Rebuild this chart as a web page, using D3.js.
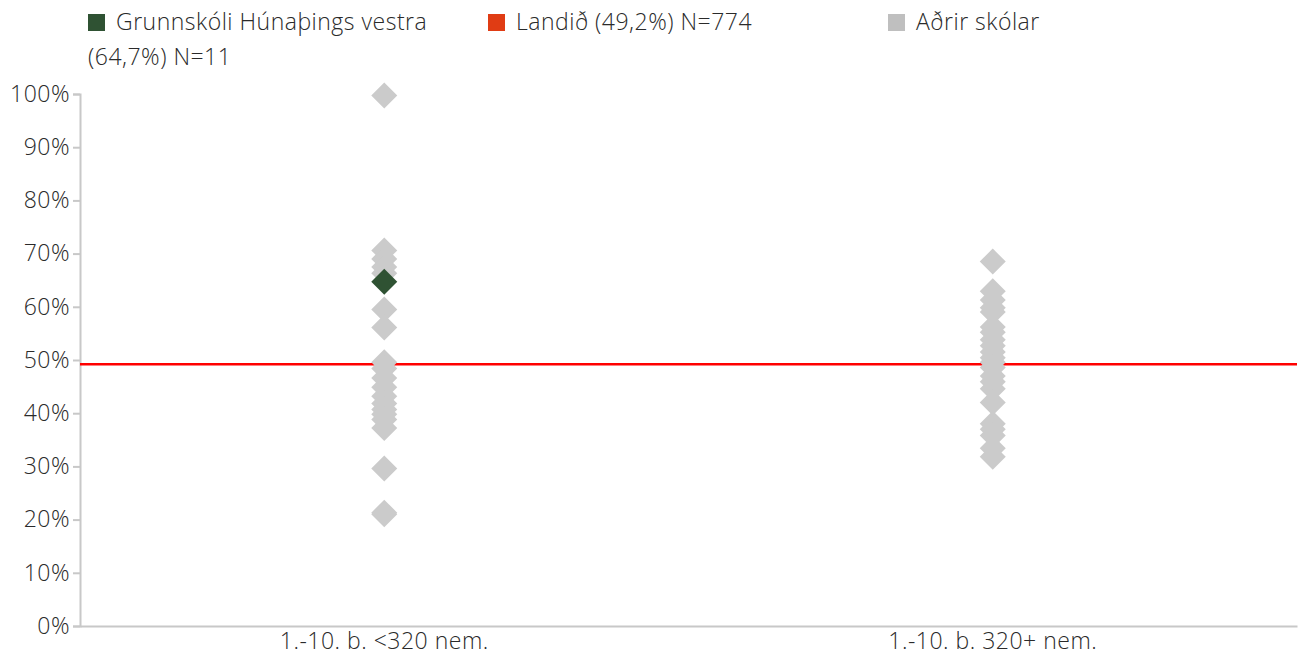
<!DOCTYPE html>
<html>
<head>
<meta charset="utf-8">
<script src="https://cdn.jsdelivr.net/npm/d3@7"></script>
<style>
  html, body { margin: 0; padding: 0; background: #fff; }
  svg { display: block; font-family: "Open Sans", "Noto Sans", sans-serif; }
  .lbl { font-family: "Open Sans", sans-serif; font-size: 23px; font-weight: 300; letter-spacing: 0.5px; }
</style>
</head>
<body>
<svg id="chart" width="1306" height="658"></svg>
<script>
const categories = ["1.-10. b. <320 nem.", "1.-10. b. 320+ nem."];
const yTicks = [0, 10, 20, 30, 40, 50, 60, 70, 80, 90, 100];
const otherSmall = [99.7, 70.6, 69.0, 67.5, 66.3, 59.5, 56.1, 49.6, 48.4, 46.6, 44.9, 43.2, 41.8, 40.7, 39.8, 38.8, 37.2, 29.6, 21.3, 21.0];
const otherLarge = [68.5, 62.9, 61.3, 59.8, 59.0, 56.2, 55.2, 53.8, 52.7, 51.5, 50.4, 49.6, 48.6, 47.0, 45.9, 44.6, 42.0, 38.0, 37.0, 35.8, 33.4, 31.8];
const schoolCategory = "1.-10. b. <320 nem.";
const schoolValue = 64.7;
const nationalValue = 49.2;
const legendLabels = ["Grunnskóli Húnaþings vestra (64,7%) N=11", "Landið (49,2%) N=774", "Aðrir skólar"];
const legendColors = ["#2f5233", "#e03c14", "#bfbfbf"];

const svg = d3.select("#chart");
const margin = { left: 80, right: 1297, top: 94, bottom: 626 };
const x = d3.scaleBand().domain(categories).range([margin.left, margin.right]).padding(0);
const y = d3.scaleLinear().domain([0, 100]).range([margin.bottom, margin.top]);
const textColor = "#2a2a2a";
const axisColor = "#c8c8c8";

// Y axis
const yAxis = svg.append("g")
  .attr("transform", `translate(${margin.left},0)`)
  .call(d3.axisLeft(y).tickValues(yTicks).tickFormat(d => d + "%").tickSize(7).tickPadding(3));
yAxis.attr("font-size", null).attr("font-family", null);
yAxis.select(".domain").attr("stroke", axisColor).attr("stroke-width", 2);
yAxis.selectAll(".tick line").attr("stroke", axisColor).attr("stroke-width", 2);
yAxis.selectAll(".tick text").attr("fill", textColor).attr("class", "lbl");

// X axis
const xAxis = svg.append("g")
  .attr("transform", `translate(0,${margin.bottom})`)
  .call(d3.axisBottom(x).tickSize(0).tickPadding(7).tickSizeOuter(0));
xAxis.attr("font-size", null).attr("font-family", null);
xAxis.select(".domain").attr("stroke", axisColor).attr("stroke-width", 2);
xAxis.selectAll(".tick text").attr("fill", textColor).attr("class", "lbl");

// National line
svg.append("line")
  .attr("x1", margin.left).attr("x2", margin.right)
  .attr("y1", y(nationalValue)).attr("y2", y(nationalValue))
  .attr("stroke", "#ff0000").attr("stroke-width", 2.5);

// Diamonds
const diamond = d3.symbol().type(d3.symbolSquare).size(338);
const others = otherSmall.map(v => ({ cat: categories[0], v }))
  .concat(otherLarge.map(v => ({ cat: categories[1], v })));
svg.append("g").selectAll("path").data(others).join("path")
  .attr("d", diamond)
  .attr("transform", d => `translate(${x(d.cat) + x.bandwidth() / 2},${y(d.v)}) rotate(45)`)
  .attr("fill", "#cbcbcb");
svg.append("path")
  .attr("d", diamond)
  .attr("transform", `translate(${x(schoolCategory) + x.bandwidth() / 2},${y(schoolValue)}) rotate(45)`)
  .attr("fill", "#2f5233");

// Legend
const legendX = [88, 488, 888];
const legend = svg.append("g");
legendLabels.forEach((lab, i) => {
  const g = legend.append("g").attr("transform", `translate(${legendX[i]},0)`);
  g.append("rect").attr("x", 0).attr("y", 14).attr("width", 17).attr("height", 17).attr("fill", legendColors[i]);
  const t = g.append("text").attr("fill", textColor).attr("class", "lbl");
  const words = lab.split(" ");
  const maxW = 350;
  let line = [];
  const lines = [];
  const probe = g.append("text").attr("class", "lbl");
  words.forEach(w => {
    const test = line.concat([w]).join(" ");
    probe.text(test);
    if (probe.node().getComputedTextLength() > maxW && line.length) {
      lines.push(line.join(" "));
      line = [w];
    } else line.push(w);
  });
  lines.push(line.join(" "));
  probe.remove();
  lines.forEach((l, j) => {
    t.append("tspan").attr("x", j === 0 ? 28 : 0).attr("y", 30 + j * 35).text(l);
  });
});
</script>
</body>
</html>
